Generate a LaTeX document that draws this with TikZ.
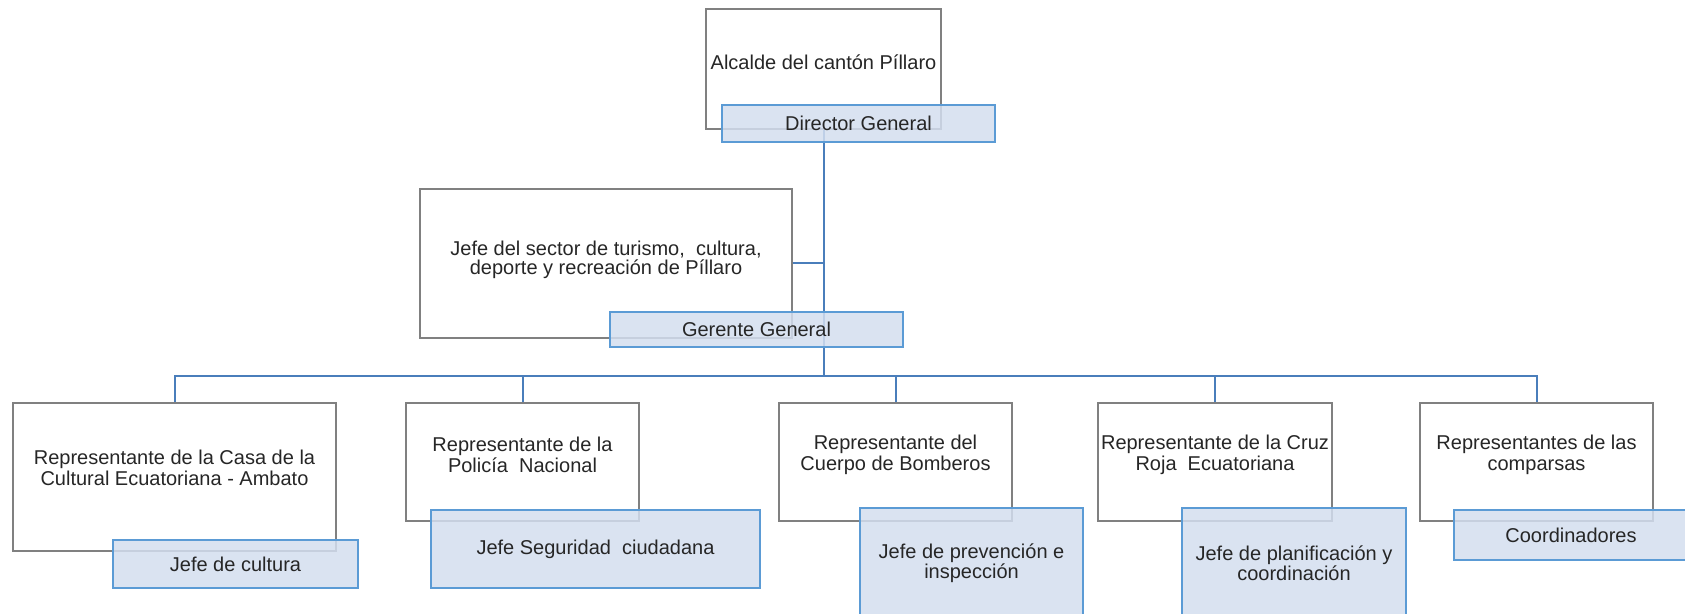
\documentclass[tikz,border=0pt]{standalone}
\usepackage{fontspec}
\setmainfont{Liberation Sans}
\definecolor{boxgray}{RGB}{128,128,128}
\definecolor{boxblue}{RGB}{91,155,213}
\definecolor{blueface}{RGB}{211,222,239}
\definecolor{lineblue}{RGB}{74,126,187}

\begin{document}
\begin{tikzpicture}[x=0.5pt, y=-0.5pt,
    every node/.style={font=\fontsize{10}{10.25}\selectfont, text=black!85},
    cargo/.style={draw=boxgray, line width=0.7pt, inner sep=0pt},
    jefatura/.style={draw=boxblue, fill=blueface, fill opacity=0.85, text opacity=1,
        line width=1pt, align=center, inner sep=0pt},
    rotulo/.style={align=center, inner sep=0pt},
    enlace/.style={draw=lineblue, line width=1pt}]

    \useasboundingbox (0,0) rectangle (1685,614);
    \clip (0,0) rectangle (1685,614);

    % Alcalde
    \node[cargo, minimum width=117.5pt, minimum height=60pt] (alcalde) at (823.5,69) {};
    \node[rotulo] (alcalde-t) at (823.5,62) {Alcalde del cantón Píllaro};

    % Jefe del sector
    \node[cargo, minimum width=186pt, minimum height=74.5pt] (sector) at (606,263.5) {};
    \node[rotulo, font=\fontsize{10}{9.5}\selectfont] (sector-t) at (606,260)
        {Jefe del sector de turismo,\ \ cultura,\\deporte y recreación de Píllaro};

    % Representantes
    \node[cargo, minimum width=161.5pt, minimum height=74pt] (casa) at (174.5,477) {};
    \node[rotulo] (casa-t) at (174.5,468) {Representante de la Casa de la\\Cultural Ecuatoriana - Ambato};

    \node[cargo, minimum width=116.5pt, minimum height=59pt] (policia) at (522.5,462) {};
    \node[rotulo] (policia-t) at (522.5,455) {Representante de la\\Policía\ \ Nacional};

    \node[cargo, minimum width=116.5pt, minimum height=59pt] (bomberos) at (895.5,462) {};
    \node[rotulo] (bomberos-t) at (895.5,455) {Representante del\\Cuerpo de Bomberos};

    \node[cargo, minimum width=117pt, minimum height=59pt] (cruz) at (1215,462) {};
    \node[rotulo] (cruz-t) at (1215,455) {Representante de la Cruz\\Roja\ \ Ecuatoriana};

    \node[cargo, minimum width=116.5pt, minimum height=59pt] (comparsas) at (1536.5,462) {};
    \node[rotulo] (comparsas-t) at (1536.5,455) {Representantes de las\\comparsas};

    % lineas
    \coordinate (bus) at (823.5,376);
    \draw[enlace] (alcalde.south) -- (bus);
    \draw[enlace] (sector.east) -- (sector.east -| alcalde.south);
    \draw[enlace] (casa.north) |- (bus) -| (comparsas.north);
    \foreach \r in {policia, bomberos, cruz}
        \draw[enlace] (\r.north) -- (\r.north |- bus);

    % Jefaturas
    \node[jefatura, minimum width=136.5pt, minimum height=18.5pt] (director) at (858.5,123.5) {Director General};
    \node[jefatura, minimum width=146.5pt, minimum height=17.5pt] (gerente) at (756.5,329.5) {Gerente General};
    \node[jefatura, minimum width=122.5pt, minimum height=24pt] (cultura) at (235.5,564) {Jefe de cultura};
    \node[jefatura, minimum width=164.5pt, minimum height=39pt] (seguridad) at (595.5,549) {Jefe Seguridad\ \ ciudadana};
    \node[jefatura, minimum width=111.5pt, minimum height=55pt] (prevencion) at (971.5,563) {Jefe de prevención e\\inspección};
    \node[jefatura, minimum width=112pt, minimum height=55pt] (planificacion) at (1294,563) {Jefe de planificación y\\coordinación};
    \node[jefatura, minimum width=117pt, minimum height=25pt] (coordinadores) at (1571,535) {Coordinadores};

\end{tikzpicture}
\end{document}
